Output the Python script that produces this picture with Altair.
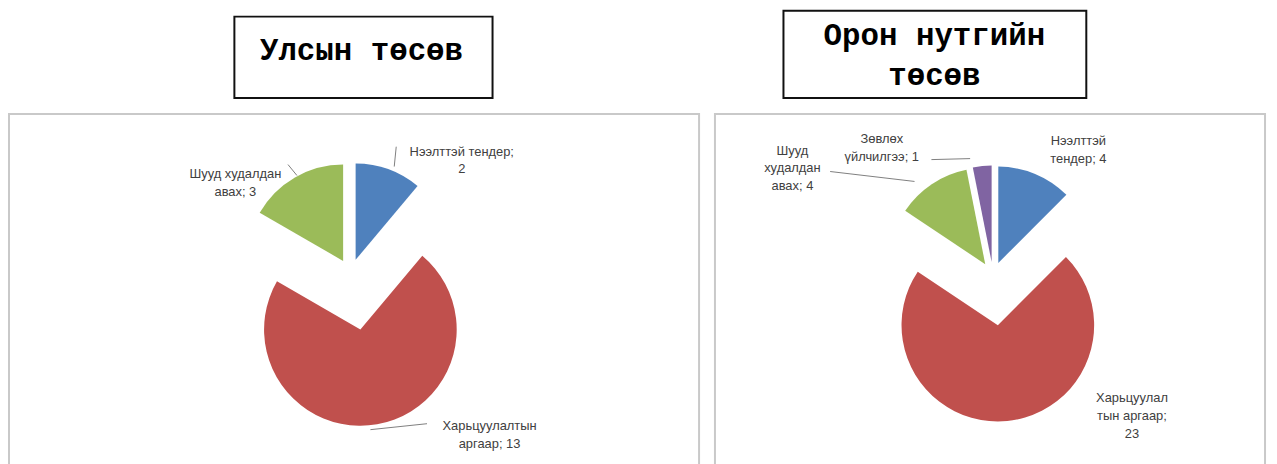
import altair as alt
import pandas as pd

# ---------------- data ----------------
panel_titles = [["Улсын төсөв"], ["Орон нутгийн", "төсөв"]]

left_categories = ["Нээлттэй тендер", "Харьцуулалтын аргаар", "Шууд худалдан авах"]
left_values = [2, 13, 3]

right_categories = ["Нээлттэй тендер", "Харьцуулалтын аргаар", "Шууд худалдан авах", "Зөвлөх үйлчилгээ"]
right_values = [4, 23, 4, 1]

# ---------------- style / layout ----------------
W, H = 1269, 456
R = 97
colors = {
    "Нээлттэй тендер": "#4F81BD",
    "Харьцуулалтын аргаар": "#C0504D",
    "Шууд худалдан авах": "#9BBB59",
    "Зөвлөх үйлчилгээ": "#8064A2",
}
panels = [
    dict(name="left", cats=left_categories, vals=left_values, cx=344, cy=266,
         explode={"Харьцуулалтын аргаар": 57}, base_explode=15),
    dict(name="right", cats=right_categories, vals=right_values, cx=991, cy=268,
         explode={"Харьцуулалтын аргаар": 50}, base_explode=14),
]
# label line breaks (character positions) and label anchor positions
label_layout = {
    ("left", "Нээлттэй тендер"): dict(breaks=[16], x=456, y=137),
    ("left", "Шууд худалдан авах"): dict(breaks=[13], x=228, y=160),
    ("left", "Харьцуулалтын аргаар"): dict(breaks=[13], x=484, y=413),
    ("right", "Нээлттэй тендер"): dict(breaks=[8], x=1077, y=126),
    ("right", "Шууд худалдан авах"): dict(breaks=[4, 13], x=789, y=136),
    ("right", "Зөвлөх үйлчилгээ"): dict(breaks=[6], x=879, y=124),
    ("right", "Харьцуулалтын аргаар"): dict(breaks=[10, 21], x=1131, y=385),
}
leaders = pd.DataFrame([
    dict(x=390, y=138, x2=388, y2=158),
    dict(x=281, y=156, x2=290, y2=167),
    dict(x=421, y=417, x2=364, y2=423),
    dict(x=827, y=163, x2=912, y2=173),
    dict(x=929, y=151, x2=968, y2=150),
])
frames = pd.DataFrame([
    dict(x=0, x2=695, y=105, y2=470),
    dict(x=711, x2=1265, y=105, y2=470),
])
title_boxes = pd.DataFrame([
    dict(x=227, x2=487, y=7, y2=89),
    dict(x=780, x2=1085, y=1, y2=89),
])
title_text = pd.DataFrame([
    dict(x=355, y=42, text=panel_titles[0]),
    dict(x=932, y=27, text=panel_titles[1]),
])

# ---------------- build tables ----------------
rows, labels = [], []
for p in panels:
    for i, (c, v) in enumerate(zip(p["cats"], p["vals"])):
        rows.append(dict(panel=p["name"], category=c, value=v, order=i,
                         cx=p["cx"], cy=p["cy"],
                         explode=p["explode"].get(c, p["base_explode"]),
                         color=colors[c]))
        txt = f"{c}; {v}"
        lay = label_layout[(p["name"], c)]
        cuts = [0] + lay["breaks"] + [len(txt)]
        lines = [txt[a:b].strip() for a, b in zip(cuts[:-1], cuts[1:])]
        labels.append(dict(x=lay["x"], y=lay["y"], text=lines))
pie_df = pd.DataFrame(rows)
label_df = pd.DataFrame(labels)

def X(f):
    return alt.X(f, scale=None, axis=None)

def Y(f):
    return alt.Y(f, scale=None, axis=None)

frame_layer = alt.Chart(frames).mark_rect(fillOpacity=0, stroke="#c9c9c9", strokeWidth=2).encode(
    x=X("x:Q"), x2="x2:Q", y=Y("y:Q"), y2="y2:Q")

box_layer = alt.Chart(title_boxes).mark_rect(fill="white", stroke="#111111", strokeWidth=2).encode(
    x=X("x:Q"), x2="x2:Q", y=Y("y:Q"), y2="y2:Q")

title_layer = alt.Chart(title_text).mark_text(
    font="Liberation Mono", fontWeight="bold", fontSize=31, color="#000000",
    align="center", baseline="middle", lineHeight=40).encode(
    x=X("x:Q"), y=Y("y:Q"), text="text")

pie_layer = alt.Chart(pie_df).transform_joinaggregate(
    total="sum(value)", groupby=["panel"]
).transform_window(
    cum="sum(value)", sort=[alt.SortField("order")], groupby=["panel"], frame=[None, 0]
).transform_calculate(
    t1="datum.cum / datum.total * 2 * PI",
    t0="(datum.cum - datum.value) / datum.total * 2 * PI",
).transform_calculate(
    mid="(datum.t0 + datum.t1) / 2"
).transform_calculate(
    px="datum.cx + datum.explode * sin(datum.mid)",
    py="datum.cy - datum.explode * cos(datum.mid)",
).mark_arc(radius=R).encode(
    x=X("px:Q"), y=Y("py:Q"),
    theta=alt.Theta("t0:Q", scale=None, stack=False),
    theta2="t1:Q",
    color=alt.Color("color:N", scale=None),
)

leader_layer = alt.Chart(leaders).mark_rule(color="#7f7f7f", strokeWidth=1).encode(
    x=X("x:Q"), y=Y("y:Q"), x2="x2:Q", y2="y2:Q")

label_layer = alt.Chart(label_df).mark_text(
    font="Liberation Sans Narrow, Arial Narrow, Liberation Sans", fontSize=13, color="#404040",
    align="center", baseline="top", lineHeight=18).encode(
    x=X("x:Q"), y=Y("y:Q"), text="text")

chart = alt.layer(frame_layer, box_layer, title_layer, pie_layer, leader_layer, label_layer).properties(
    width=W, height=H, padding=0
).configure_view(stroke=None)

chart.save("out.html", embed_options={"renderer": "svg", "actions": False})
